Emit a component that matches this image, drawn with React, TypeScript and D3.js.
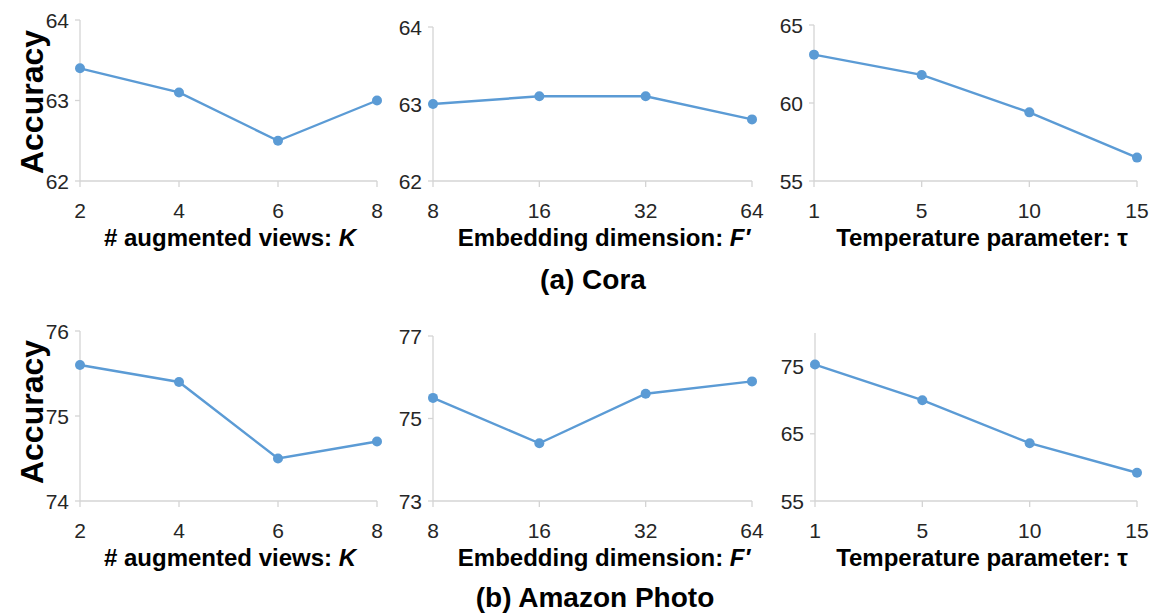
import React from "react";
import * as d3 from "d3";

// x categories
const viewsK = ["2", "4", "6", "8"];
const embedDims = ["8", "16", "32", "64"];
const temps = ["1", "5", "10", "15"];

// accuracy values
const coraK = [63.4, 63.1, 62.5, 63.0];
const coraF = [63.0, 63.1, 63.1, 62.8];
const coraTau = [63.1, 61.8, 59.4, 56.5];
const photoK = [75.6, 75.4, 74.5, 74.7];
const photoF = [75.5, 74.4, 75.6, 75.9];
const photoTau = [75.3, 70.0, 63.6, 59.2];

// y tick labels
const coraKTicks = [62, 63, 64];
const coraFTicks = [62, 63, 64];
const coraTauTicks = [55, 60, 65];
const photoKTicks = [74, 75, 76];
const photoFTicks = [73, 75, 77];
const photoTauTicks = [55, 65, 75];

const BLUE = "#5B9BD5";
const AXIS = "#D4D4D4";
const FONT = "'Liberation Sans', Arial, sans-serif";

type Panel = {
  cats: string[];
  values: number[];
  ticks: number[];
  yMax: number;
  left: number;
  right: number;
  top: number;
  bottom: number;
  title: React.ReactNode;
  titleX: number;
};

const kTitle = (
  <>
    # augmented views: <tspan fontStyle="italic">K</tspan>
  </>
);
const fTitle = (
  <>
    Embedding dimension: <tspan fontStyle="italic">F′</tspan>
  </>
);
const tauTitle = <>Temperature parameter: τ</>;

const panels: Panel[] = [
  { cats: viewsK, values: coraK, ticks: coraKTicks, yMax: 64, left: 80, right: 377, top: 20, bottom: 181, title: kTitle, titleX: 230 },
  { cats: embedDims, values: coraF, ticks: coraFTicks, yMax: 64, left: 433, right: 752, top: 27, bottom: 181, title: fTitle, titleX: 604 },
  { cats: temps, values: coraTau, ticks: coraTauTicks, yMax: 65, left: 814, right: 1137, top: 25, bottom: 181, title: tauTitle, titleX: 982 },
  { cats: viewsK, values: photoK, ticks: photoKTicks, yMax: 76, left: 80, right: 377, top: 331, bottom: 501, title: kTitle, titleX: 230 },
  { cats: embedDims, values: photoF, ticks: photoFTicks, yMax: 77, left: 433, right: 752, top: 336, bottom: 501, title: fTitle, titleX: 604 },
  { cats: temps, values: photoTau, ticks: photoTauTicks, yMax: 80, left: 815, right: 1137, top: 333, bottom: 501, title: tauTitle, titleX: 982 },
];

function LinePanel({ p }: { p: Panel }) {
  const x = d3.scalePoint<string>().domain(p.cats).range([p.left, p.right]);
  const y = d3
    .scaleLinear()
    .domain([p.ticks[0], p.yMax])
    .range([p.bottom, p.top]);
  const pts = p.cats.map((c, i) => [x(c) as number, y(p.values[i])] as [number, number]);
  const line = d3.line();

  return (
    <g>
      {/* y axis */}
      <line x1={p.left} x2={p.left} y1={y(p.yMax)} y2={p.bottom} stroke={AXIS} strokeWidth={1.3} />
      {p.ticks.map((t) => (
        <g key={t}>
          <line x1={p.left - 5} x2={p.left} y1={y(t)} y2={y(t)} stroke={AXIS} strokeWidth={1.3} />
          <text
            x={p.left - 11}
            y={y(t)}
            textAnchor="end"
            dominantBaseline="central"
            fontSize={21}
            fill="#262626"
          >
            {t}
          </text>
        </g>
      ))}
      {/* x axis */}
      <line x1={p.left} x2={p.right} y1={p.bottom} y2={p.bottom} stroke={AXIS} strokeWidth={1.3} />
      {p.cats.map((c) => (
        <g key={c}>
          <line x1={x(c)} x2={x(c)} y1={p.bottom} y2={p.bottom + 6} stroke={AXIS} strokeWidth={1.3} />
          <text
            x={x(c)}
            y={p.bottom + 29}
            textAnchor="middle"
            dominantBaseline="central"
            fontSize={21}
            fill="#262626"
          >
            {c}
          </text>
        </g>
      ))}
      <text
        x={p.titleX}
        y={p.bottom + 56}
        textAnchor="middle"
        dominantBaseline="central"
        fontSize={24}
        fontWeight="bold"
        fill="#000"
      >
        {p.title}
      </text>
      <path d={line(pts) ?? ""} fill="none" stroke={BLUE} strokeWidth={2.4} />
      {pts.map((d, i) => (
        <circle key={i} cx={d[0]} cy={d[1]} r={5} fill={BLUE} />
      ))}
    </g>
  );
}

export default function App() {
  return (
    <svg
      width={1151}
      height={615}
      style={{ position: "absolute", left: 0, top: 0, background: "#fff" }}
      fontFamily={FONT}
    >
      <rect width={1151} height={615} fill="#fff" />
      {panels.map((p, i) => (
        <LinePanel key={i} p={p} />
      ))}
      <text
        transform="translate(32,102) rotate(-90)"
        textAnchor="middle"
        dominantBaseline="central"
        fontSize={32}
        fontWeight="bold"
      >
        Accuracy
      </text>
      <text
        transform="translate(32,412) rotate(-90)"
        textAnchor="middle"
        dominantBaseline="central"
        fontSize={32}
        fontWeight="bold"
      >
        Accuracy
      </text>
      <text x={593} y={279} textAnchor="middle" dominantBaseline="central" fontSize={28} fontWeight="bold">
        (a) Cora
      </text>
      <text x={595} y={597} textAnchor="middle" dominantBaseline="central" fontSize={28} fontWeight="bold">
        (b) Amazon Photo
      </text>
    </svg>
  );
}
